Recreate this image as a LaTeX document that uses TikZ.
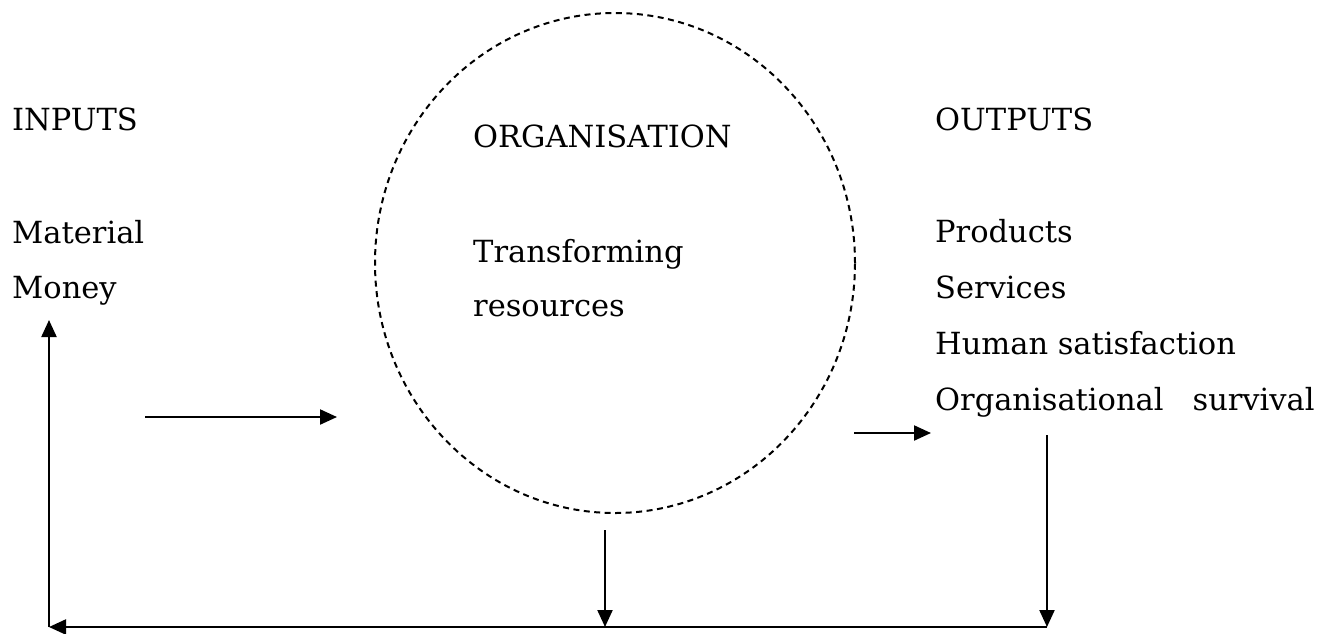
\documentclass[tikz,border=0pt]{standalone}
\usepackage{fontspec}
\setmainfont{DejaVu Serif}
\usetikzlibrary{shapes.geometric,arrows.meta,positioning}

\begin{document}
\begin{tikzpicture}[x=1pt,y=-1pt,font=\fontsize{30.5}{36}\selectfont,
  lbl/.style={anchor=base west,inner sep=0pt},
  flow/.style={line width=2.2pt,-{Triangle[length=17pt,width=15pt]}}]
\useasboundingbox (0,0) rectangle (1334,633);

% the organisation
\node[draw,ellipse,line width=2pt,dash pattern=on 6pt off 4.5pt,
  minimum width=480pt,minimum height=500pt,inner sep=0pt] (orgbox) at (615,263) {};

% left column
\node[lbl] (inputs) at (12,130) {INPUTS};
\node[lbl] (material) at (12,243) {Material};
\node[lbl] (money) at (12,298) {Money};

% middle column
\node[lbl] (org) at (473,147) {ORGANISATION};
\node[lbl] (transform) at (473,262) {Transforming};
\node[lbl] (resources) at (473,316) {resources};

% right column
\node[lbl] (outputs) at (935,130) {OUTPUTS};
\node[lbl] (products) at (935,242) {Products};
\node[lbl] (services) at (935,298) {Services};
\node[lbl] (human) at (935,354) {Human satisfaction};
\node[lbl] (survival) at (935,410) {Organisational\hspace{0.95em}survival};

\coordinate (inl) at (145,417);
\coordinate (inr) at (337,417);
\coordinate (outl) at (854,433);
\coordinate (outr) at (931,433);
\coordinate (midtop) at (605,530);
\coordinate (midbot) at (605,627);
\coordinate (rtop) at (1047,435);
\coordinate (rbot) at (1047,627);
\coordinate (lbot) at (49,627);
\coordinate (ltop) at (49,320);

\draw[flow] (inl) -- (inr);
\draw[flow] (outl) -- (outr);
\draw[flow] (midtop) -- (midbot);
\draw[flow] (rtop) -- (rbot);
\draw[flow] (rbot) -- (lbot);
\draw[flow] (lbot) -- (ltop);
\end{tikzpicture}
\end{document}
